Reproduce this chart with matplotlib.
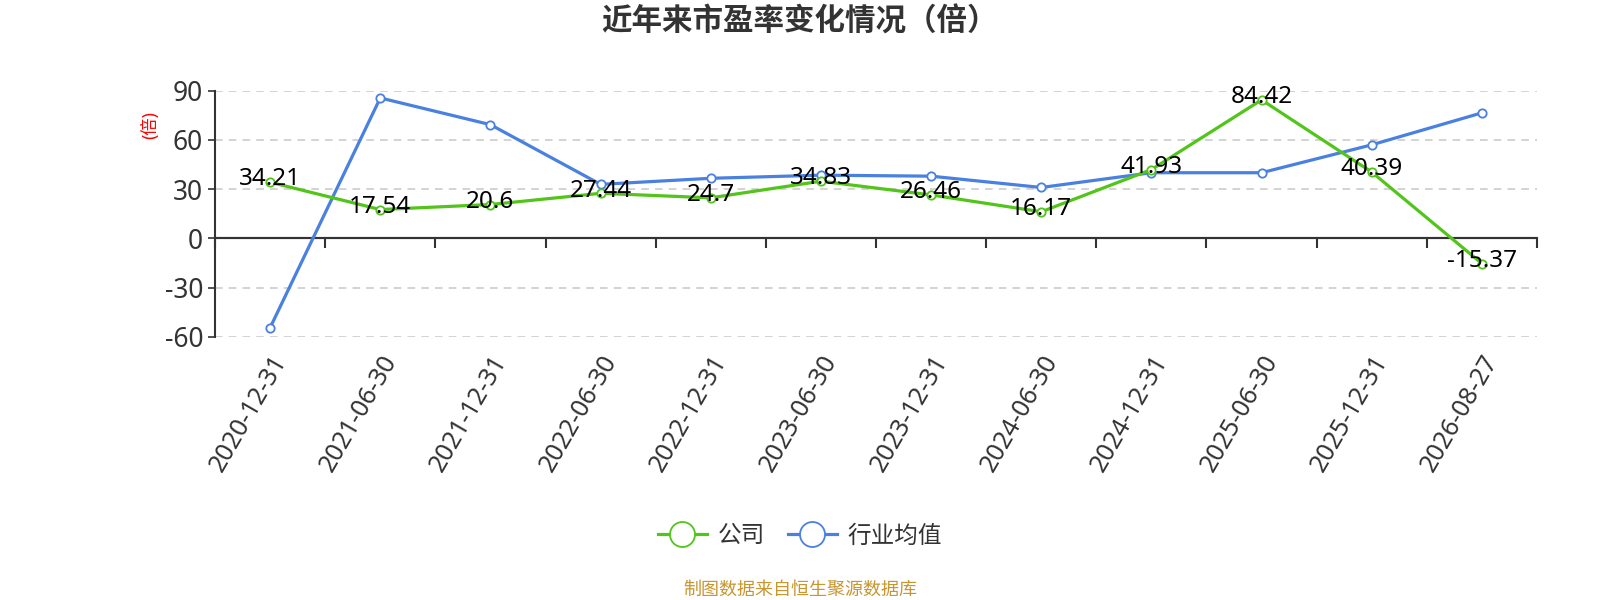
import matplotlib.pyplot as plt
import numpy as np

plt.rcParams['font.family'] = ['Noto Sans', 'Noto Sans CJK SC', 'DejaVu Sans']
plt.rcParams['axes.unicode_minus'] = False

dates = ['2020-12-31', '2021-06-30', '2021-12-31', '2022-06-30', '2022-12-31', '2023-06-30',
         '2023-12-31', '2024-06-30', '2024-12-31', '2025-06-30', '2025-12-31', '2026-08-27']
company = [34.21, 17.54, 20.6, 27.44, 24.7, 34.83, 26.46, 16.17, 41.93, 84.42, 40.39, -15.37]
industry = [-54.5, 85.6, 69.3, 32.9, 36.6, 38.5, 37.9, 31.0, 40.0, 40.0, 57.0, 76.5]
yticks = [-60, -30, 0, 30, 60, 90]

green = '#52C41A'
blue = '#4A80E0'

fig = plt.figure(figsize=(16, 6), dpi=100)
ax = fig.add_axes([0.1344, 0.4388, 0.8262, 0.41])

x = np.arange(len(dates))
ax.plot(x, company, color=green, lw=2.3, marker='o', ms=6, mfc='white', mec=green, mew=1.3,
        label='公司', zorder=4)
ax.plot(x, industry, color=blue, lw=2.3, marker='o', ms=6, mfc='white', mec=blue, mew=1.3,
        label='行业均值', zorder=3)

for xi, v in zip(x, company):
    ax.annotate(f'{v:g}', (xi, v), xytext=(0, 2), textcoords='offset points',
                ha='center', va='center', fontsize=17.5, color='black', zorder=5)

ax.set_xlim(-0.5, len(dates) - 0.5)
ax.set_ylim(-60, 90)
ax.set_yticks(yticks)
ax.tick_params(axis='y', labelsize=19, colors='#333333', length=5, width=1.2)
ax.grid(axis='y', color='#c8c8c8', ls=(0, (5, 4)), lw=1.1)
ax.set_axisbelow(True)

ax.set_xticks(x)
ax.set_xticklabels(dates, rotation=60, ha='right', rotation_mode='anchor', fontsize=18, color='#333333')
ax.tick_params(axis='x', length=0, pad=10)

for s in ['top', 'right', 'bottom']:
    ax.spines[s].set_visible(False)
ax.spines['left'].set_color('#333333')
ax.spines['left'].set_linewidth(1.5)

# x axis line at zero with ticks between categories
ax.axhline(0, color='#333333', lw=1.5, zorder=2)
sec = ax.secondary_xaxis(60 / 150)
sec.set_xticks(np.arange(len(dates) + 1) - 0.5)
sec.set_xticklabels([])
sec.tick_params(direction='out', length=7, width=1.5, colors='#333333')
sec.spines['bottom'].set_color('#333333')
sec.spines['bottom'].set_linewidth(1.5)

ax.set_ylabel('(倍)', color='red', fontsize=12.5)
ax.yaxis.set_label_coords(-0.042, 0.86)

fig.text(0.5, 0.962, '近年来市盈率变化情况（倍）', ha='center', va='center', fontsize=22,
         fontweight='bold', color='#333333')

fig.legend(loc='center', bbox_to_anchor=(0.5, 0.106), ncol=2, frameon=False, fontsize=17,
           markerscale=3.0, handlelength=2.1, columnspacing=0.95, handletextpad=0.45,
           labelcolor='#333333')

fig.text(0.5, 0.018, '制图数据来自恒生聚源数据库', ha='center', va='center', fontsize=13, color='#C8952E')

fig.savefig('out.png', dpi=100)
